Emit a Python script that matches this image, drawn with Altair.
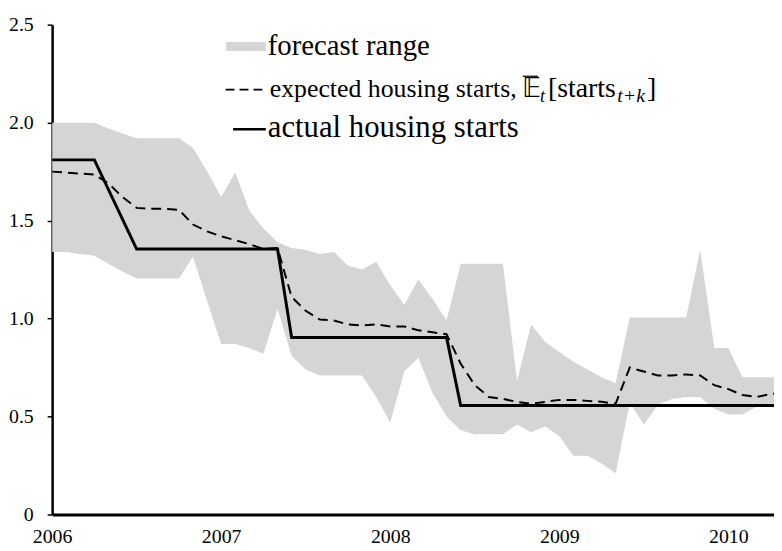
import altair as alt
import pandas as pd

# ---- data ----
years = [2006, 2007, 2008, 2009, 2010]
y_ticks = [0, 0.5, 1.0, 1.5, 2.0, 2.5]

band_month = list(range(53))
band_upper = [2.00, 2.00, 2.00, 2.00, 1.97, 1.945, 1.92, 1.92, 1.92, 1.92,
              1.87, 1.75, 1.62, 1.745, 1.55, 1.46, 1.39, 1.36, 1.35, 1.33,
              1.34, 1.27, 1.25, 1.29, 1.17, 1.07, 1.20, 1.10, 0.99, 1.28,
              1.28, 1.28, 1.28, 0.68, 0.97, 0.88, 0.83, 0.78, 0.74, 0.70,
              0.67, 1.005, 1.005, 1.005, 1.005, 1.005, 1.35, 0.85, 0.85, 0.70,
              0.70, 0.70, 0.70]
band_lower = [1.34, 1.34, 1.33, 1.32, 1.28, 1.24, 1.205, 1.205, 1.205, 1.205,
              1.315, 1.09, 0.87, 0.87, 0.85, 0.82, 1.05, 0.81, 0.74, 0.71,
              0.71, 0.71, 0.71, 0.60, 0.47, 0.73, 0.80, 0.62, 0.50, 0.43,
              0.41, 0.41, 0.41, 0.46, 0.42, 0.45, 0.40, 0.30, 0.30, 0.26,
              0.21, 0.57, 0.46, 0.56, 0.59, 0.60, 0.60, 0.54, 0.51, 0.51,
              0.55, 0.55, 0.55]

exp_month = list(range(53))
exp_value = [1.75, 1.745, 1.74, 1.735, 1.69, 1.62, 1.565, 1.56, 1.56, 1.555,
             1.48, 1.445, 1.42, 1.40, 1.38, 1.355, 1.36, 1.11, 1.04, 0.995,
             0.99, 0.97, 0.965, 0.97, 0.96, 0.96, 0.94, 0.93, 0.92, 0.77,
             0.66, 0.60, 0.59, 0.575, 0.565, 0.575, 0.585, 0.585, 0.58, 0.575,
             0.565, 0.75, 0.73, 0.71, 0.71, 0.715, 0.71, 0.66, 0.64, 0.61,
             0.60, 0.615, 0.62]

act_month = [0, 3, 6, 16, 17, 28, 29, 52]
act_value = [1.81, 1.81, 1.355, 1.355, 0.903, 0.903, 0.556, 0.556]

legend_labels = ["forecast range", "expected housing starts,", "actual housing starts"]
math_main = ["\U0001D53C", "[starts", "]"]
math_sub = ["t", "t+k"]

# ---- tables ----
band_df = pd.DataFrame({"year": [2006 + m / 12 for m in band_month],
                        "upper": band_upper, "lower": band_lower})
exp_df = pd.DataFrame({"year": [2006 + m / 12 for m in exp_month], "value": exp_value})
act_df = pd.DataFrame({"year": [2006 + m / 12 for m in act_month], "value": act_value})

FONT = "Liberation Serif"
BAND = "#d5d5d5"
xscale = alt.Scale(domain=[2006, 2010.27], nice=False, zero=False)
yscale = alt.Scale(domain=[0, 2.5], nice=False)

xaxis = alt.Axis(values=years, format="d", ticks=False, grid=False, title=None,
                 domainColor="black", domainWidth=3, labelFont=FONT, labelFontSize=20,
                 labelColor="black", labelPadding=12, labelFlush=False)
yaxis = alt.Axis(values=y_ticks, grid=False, title=None,
                 labelExpr="datum.value == 0 ? '0' : format(datum.value, '.1f')",
                 domainColor="black", domainWidth=2.5, tickColor="black", tickWidth=1.5,
                 tickSize=5, labelFont=FONT, labelFontSize=20, labelColor="black",
                 labelPadding=14)

band = alt.Chart(band_df).mark_area(color=BAND, clip=True).encode(
    x=alt.X("year:Q", scale=xscale, axis=xaxis),
    y=alt.Y("upper:Q", scale=yscale, axis=yaxis),
    y2="lower:Q",
)
exp_line = alt.Chart(exp_df).mark_line(color="black", strokeWidth=2, strokeDash=[10, 6],
                                       clip=True).encode(
    x=alt.X("year:Q", scale=xscale), y=alt.Y("value:Q", scale=yscale))
act_line = alt.Chart(act_df).mark_line(color="black", strokeWidth=3, clip=True).encode(
    x=alt.X("year:Q", scale=xscale), y=alt.Y("value:Q", scale=yscale))

# ---- hand-made legend (positions in plot-area pixels) ----
one = pd.DataFrame({"k": [0]})
leg_patch = alt.Chart(one).mark_rect(color=BAND).encode(
    x=alt.value(175.5), x2=alt.value(215.5), y=alt.value(17.5), y2=alt.value(26.5))
leg_dash = alt.Chart(one).mark_rule(color="black", strokeWidth=2, strokeDash=[9, 5]).encode(
    x=alt.value(175), x2=alt.value(216), y=alt.value(65.5))
leg_solid = alt.Chart(one).mark_rule(color="black", strokeWidth=2.5).encode(
    x=alt.value(182.5), x2=alt.value(215.5), y=alt.value(105.5))
e_bar = alt.Chart(one).mark_rule(color="black", strokeWidth=1.2).encode(
    x=alt.value(474.5), x2=alt.value(490), y=alt.value(52))

def txt(label, px, py, size, baseline="middle", font=FONT, style="normal"):
    return alt.Chart(pd.DataFrame({"t": [label]})).mark_text(
        align="left", baseline=baseline, font=font, fontSize=size, fontStyle=style,
        color="black").encode(x=alt.value(px), y=alt.value(py), text="t:N")

t1 = txt(legend_labels[0], 217.5, 21.5, 29)
t2 = txt(legend_labels[1], 219.5, 73, 26, baseline="alphabetic")
m1 = txt(math_main[0], 474, 73, 26, baseline="alphabetic", font="DejaVu Sans")
s1 = txt(math_sub[0], 492, 78, 18, baseline="alphabetic", style="italic")
m2 = txt(math_main[1], 500, 73, 28, baseline="alphabetic")
s2 = txt(math_sub[1], 570, 78, 20, baseline="alphabetic", style="italic")
m3 = txt(math_main[2], 600, 73, 28, baseline="alphabetic")
t3 = txt(legend_labels[2], 217.5, 104.5, 31)

chart = alt.layer(band, exp_line, act_line, leg_patch, leg_dash, leg_solid, e_bar,
                  t1, t2, m1, s1, m2, s2, m3, t3).properties(
    width=728, height=494,
    autosize=alt.AutoSizeParams(type="none"),
    padding={"left": 44.5, "top": 14.5, "right": 0, "bottom": 36},
).configure_view(stroke=None).configure_axis(
    labelFont=FONT, labelFontSize=20, labelColor="black"
)

chart.save("out.html", embed_options={"renderer": "svg", "actions": False})
